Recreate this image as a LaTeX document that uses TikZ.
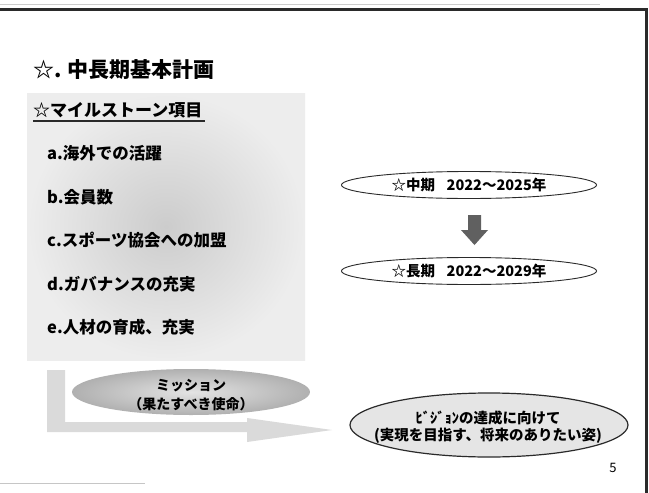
\documentclass[tikz,border=0pt]{standalone}
\usepackage{fontspec}
\setmainfont{Noto Sans CJK JP}
\newfontfamily\cjk{Noto Sans CJK JP}
\usetikzlibrary{shapes.geometric,shadings}
\definecolor{framegray}{HTML}{2A2A2A}
\definecolor{arrowlight}{HTML}{DADADA}
\tikzset{
  itemtext/.style={anchor=west,font=\cjk\bfseries\fontsize{16.5}{18}\selectfont,inner sep=0pt},
  periodell/.style={ellipse,draw=framegray,line width=0.9pt,fill=white,minimum width=255pt,minimum height=27pt,inner sep=0pt,font=\cjk\bfseries\fontsize{14.5}{16}\selectfont},
}
\begin{document}
\begin{tikzpicture}[x=1pt,y=-1pt]
\useasboundingbox (0,0) rectangle (649,493);
\fill[white] (0,0) rectangle (649,493);
% frame lines
\draw[framegray,line width=2.5pt] (0,9.5) -- (646.5,9.5) -- (646.5,493);
\draw[gray!40,line width=0.6pt] (0,4) -- (600,4);
\draw[gray!45,line width=1.2pt] (0,483.5) -- (145,483.5);
% title
\node[anchor=west,inner sep=0pt,font=\cjk\bfseries\fontsize{21}{23}\selectfont] (title) at (33,70) {☆. 中長期基本計画};
% gray box
\shade[inner color=gray!40,outer color=gray!14] (27,93) rectangle (305,360);
\node[anchor=west,inner sep=0pt,font=\cjk\bfseries\fontsize{17}{18}\selectfont] (milestone) at (33,110) {☆マイルストーン項目};
\draw[framegray,line width=1.2pt] (33,121) -- (205,121);
\node[itemtext] (ia) at (47,153) {a.海外での活躍};
\node[itemtext] (ib) at (47,197) {b.会員数};
\node[itemtext] (ic) at (47,240) {c.スポーツ協会への加盟};
\node[itemtext] (id) at (47,284) {d.ガバナンスの充実};
\node[itemtext] (ie) at (47,327) {e.人材の育成、充実};
% L-shaped light arrow
\fill[arrowlight] (47,370) -- (65,370) -- (65,422) -- (247,422) -- (247,418) -- (332,430) -- (247,442) -- (247,432) -- (47,432) -- cycle;
% mission ellipse
\node[ellipse,minimum width=238pt,minimum height=46pt,inner sep=0pt,
      inner color=gray!22,outer color=gray!62] (mission) at (191,392) {};
\node[font=\cjk\bfseries\fontsize{14}{15}\selectfont,align=center,inner sep=0pt] (missiontext) at (191,395) {ミッション\\[4pt]（果たすべき使命）};
% period ellipses
\node[periodell] (mid) at (469,185) {☆中期\hspace{0.8em}2022～2025年};
\node[periodell] (long) at (469,271) {☆長期\hspace{0.8em}2022～2029年};
% down block arrow
\fill[gray!75!black] (468,215) -- (481,215) -- (481,230) -- (488,230) -- (474.5,245) -- (461,230) -- (468,230) -- cycle;
% vision ellipse
\node[ellipse,draw=framegray,line width=1.2pt,fill=gray!20,minimum width=278pt,minimum height=64pt,inner sep=0pt] (vision) at (489,425) {};
\node[font=\cjk\bfseries\fontsize{14.5}{16}\selectfont,align=center,inner sep=0pt] (visiontext) at (488,427) {ﾋﾞｼﾞｮﾝの達成に向けて\\[1pt](実現を目指す、将来のありたい姿)};
% page number
\node[font=\fontsize{13}{15}\selectfont,inner sep=0pt] (pagenum) at (613,468) {5};
\end{tikzpicture}
\end{document}
